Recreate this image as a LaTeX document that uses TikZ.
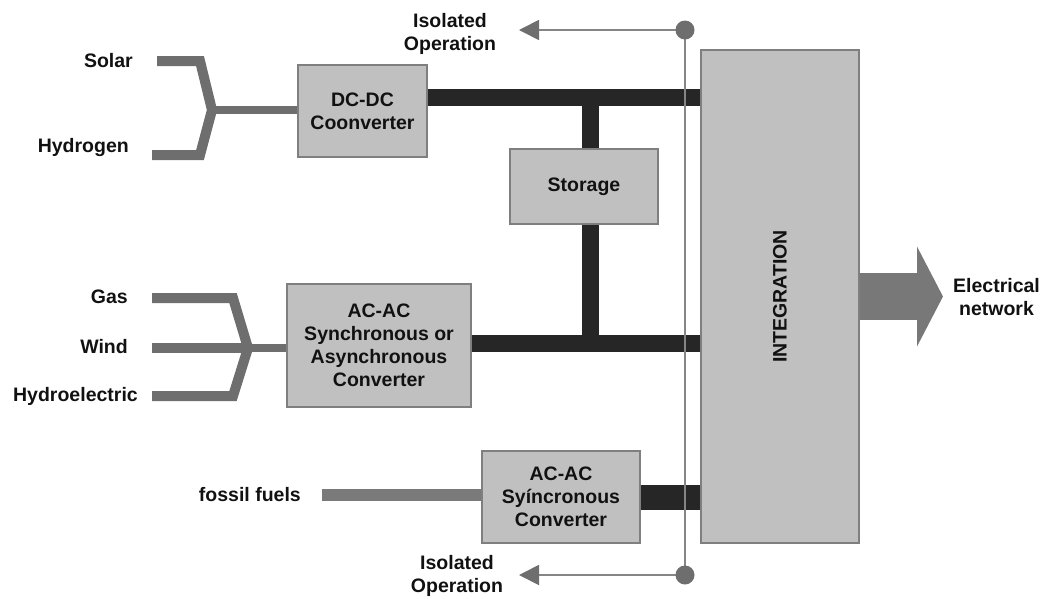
\documentclass[tikz,border=0pt]{standalone}
\usepackage{fontspec}
\setmainfont{Liberation Sans}
\usetikzlibrary{arrows.meta}

\definecolor{boxfill}{HTML}{C0C0C0}
\definecolor{boxedge}{HTML}{7F7F7F}
\definecolor{busdark}{HTML}{262626}
\definecolor{feedgray}{HTML}{6E6E6E}
\definecolor{fossilgray}{HTML}{7A7A7A}
\definecolor{linegray}{HTML}{858585}
\definecolor{tipgray}{HTML}{6E6E6E}
\definecolor{arrowgray}{HTML}{787878}
\definecolor{textblack}{HTML}{111111}

\newcommand{\lblfont}{\fontsize{19.5}{23}\selectfont\bfseries}

\begin{document}
\begin{tikzpicture}[x=1pt, y=-1pt, every node/.style={font=\lblfont, text=textblack, inner sep=0pt},
	box/.style={draw=boxedge, fill=boxfill, line width=1.6pt, align=center},
	bus/.style={draw=busdark, line width=17pt},
	feed/.style={draw=feedgray, line width=10pt, line join=miter},
	stem/.style={draw=feedgray, line width=8pt},
	sense/.style={draw=linegray, line width=1.8pt},
	isotip/.style={-{Triangle[length=20pt, width=20pt, color=tipgray]}},
	outarrow/.style={draw=arrowgray, line width=47pt, -{Triangle[length=26pt, width=99pt]}}]
	\useasboundingbox (0,0) rectangle (1045,598);
	\node[box, minimum width=129pt, minimum height=92pt] (dcdc) at (362.5,111) {DC-DC\\Coonverter};
	\node[box, minimum width=148pt, minimum height=75pt] (storage) at (584,186.5) {Storage};
	\node[box, minimum width=184pt, minimum height=123pt] (acac) at (379,345.5) {AC-AC\\Synchronous or\\Asynchronous\\Converter};
	\node[box, minimum width=158pt, minimum height=92pt] (acsyn) at (561,497) {AC-AC\\Syíncronous\\Converter};
	\node[box, minimum width=158pt, minimum height=493pt] (integ) at (780,296.5) {};
	\node[rotate=90] (integtxt) at (integ.center) {INTEGRATION};
	\node[anchor=base east] (solar) at (133,67) {Solar};
	\node[anchor=base east] (hydrogen) at (129,152.5) {Hydrogen};
	\node[anchor=base east] (gas) at (128,303.5) {Gas};
	\node[anchor=base east] (wind) at (128,353) {Wind};
	\node[anchor=base east] (hydro) at (138,401) {Hydroelectric};
	\node[anchor=base east] (fossil) at (301,501) {fossil fuels};
	\node[align=center] (isotoplbl) at (450,33.5) {Isolated\\Operation};
	\node[align=center] (isobotlbl) at (457,575.5) {Isolated\\Operation};
	\node[align=center] (netlbl) at (996.5,297.5) {Electrical\\network};
	\coordinate (solarin) at (157,61);
	\coordinate (hydrogenin) at (152,155);
	\coordinate (fkdc) at (212,110);
	\coordinate (gasin) at (152,298);
	\coordinate (windin) at (152,348);
	\coordinate (hydroin) at (152,396);
	\coordinate (fkac) at (248,348);
	\coordinate (fossilin) at (322,495);
	\coordinate (tdc) at (590.5,97.5);
	\coordinate (tac) at (590.5,343.5);
	\coordinate (isotop) at (685,30);
	\coordinate (isobot) at (685,575);
	\coordinate (isotoptip) at (519,30);
	\coordinate (isobottip) at (519,575);
	\coordinate (nettip) at (943,296.5);
	\draw[feed] (solarin) -- (200,61) -- (fkdc) -- (200,155) -- (hydrogenin);
	\draw[stem] (fkdc) -- (dcdc.west |- fkdc);
	\draw[feed] (gasin) -- (233,298) -- (fkac) -- (233,396) -- (hydroin);
	\draw[feed] (windin) -- (fkac);
	\draw[stem] (fkac) -- (acac.west |- fkac);
	\draw[draw=fossilgray, line width=12pt] (fossilin) -- (acsyn.west |- fossilin);
	\draw[bus] (dcdc.east |- tdc) -- (integ.west |- tdc);
	\draw[bus] (tdc) -- (tdc |- storage.north);
	\draw[bus] (tdc |- storage.south) -- (tac);
	\draw[bus] (acac.east |- tac) -- (integ.west |- tac);
	\draw[bus, line width=25pt] (acsyn.east) -- (integ.west |- acsyn.east);
	\draw[sense] (isotop) -- (isobot);
	\draw[sense, isotip] (isotop) -- (isotoptip);
	\draw[sense, isotip] (isobot) -- (isobottip);
	\foreach \p in {isotop, isobot} {\fill[tipgray] (\p) circle (9.5);}
	\draw[outarrow] (integ.east) -- (nettip);
\end{tikzpicture}
\end{document}
